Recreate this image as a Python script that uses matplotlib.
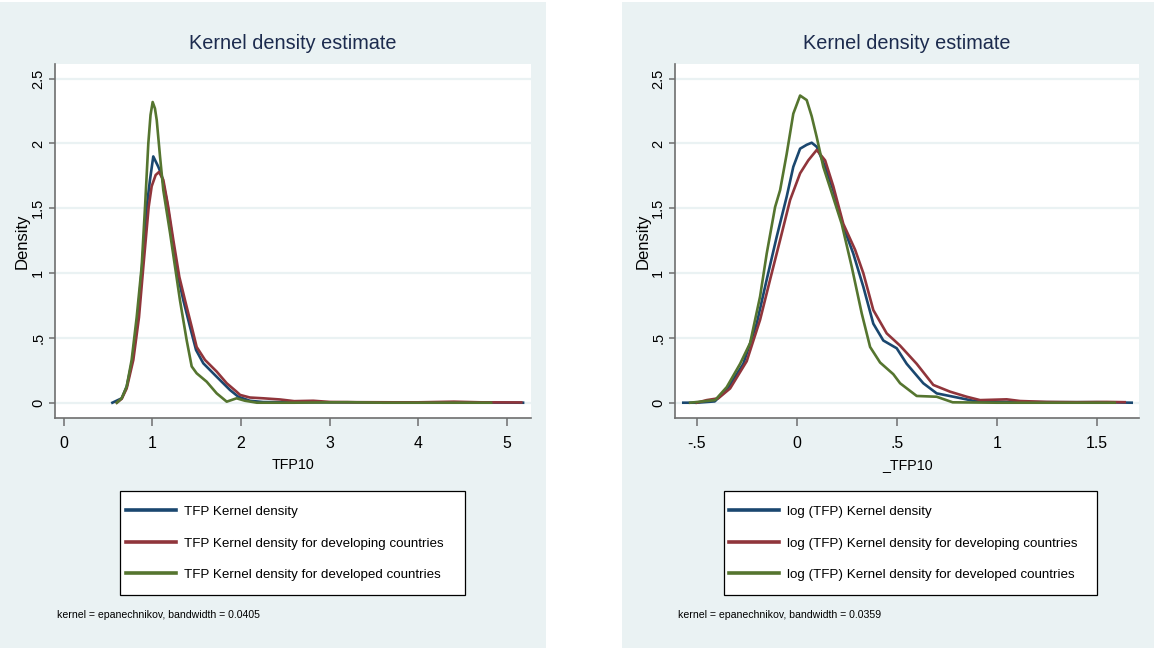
import matplotlib
matplotlib.use("Agg")
import matplotlib.pyplot as plt
import matplotlib.font_manager as fm
from matplotlib.patches import Rectangle

# ---------------- data ----------------
# Left panel: TFP10
tfp_all_x = [0.55, 0.655, 0.711, 0.775, 0.835, 0.884, 0.937, 0.974, 1.011, 1.068, 1.105, 1.162,
             1.218, 1.282, 1.35, 1.425, 1.493, 1.575, 1.726, 1.876, 1.97, 2.1, 2.25, 2.5,
             3.0, 3.5, 4.0, 4.5, 5.18]
tfp_all_y = [0.0, 0.034, 0.124, 0.33, 0.66, 1.05, 1.51, 1.72, 1.90, 1.82, 1.757, 1.564,
             1.307, 1.0, 0.79, 0.586, 0.407, 0.304, 0.2, 0.098, 0.046, 0.015, 0.005, 0.004,
             0.003, 0.002, 0.002, 0.002, 0.0]

tfp_dev_x = [0.60, 0.655, 0.711, 0.786, 0.85, 0.899, 0.959, 0.993, 1.038, 1.075, 1.124, 1.18,
             1.237, 1.305, 1.369, 1.444, 1.5, 1.594, 1.726, 1.839, 1.95, 1.99, 2.1, 2.25,
             2.44, 2.6, 2.815, 3.0, 3.3, 3.7, 4.0, 4.4, 4.7, 5.16]
tfp_dev_y = [0.0, 0.03, 0.11, 0.33, 0.66, 1.05, 1.51, 1.67, 1.757, 1.78, 1.72, 1.51,
             1.255, 0.97, 0.79, 0.586, 0.43, 0.33, 0.24, 0.15, 0.085, 0.06, 0.04, 0.034,
             0.025, 0.012, 0.015, 0.006, 0.004, 0.003, 0.003, 0.008, 0.003, 0.002]

tfp_ded_x = [0.60, 0.655, 0.711, 0.767, 0.824, 0.88, 0.918, 0.955, 0.98, 1.004, 1.03, 1.05,
             1.087, 1.124, 1.2, 1.256, 1.312, 1.388, 1.444, 1.5, 1.613, 1.726, 1.839, 1.95,
             2.045, 2.18, 2.6, 3.2, 3.6, 4.2, 4.82]
tfp_ded_y = [0.0, 0.034, 0.124, 0.33, 0.66, 1.05, 1.51, 2.0, 2.22, 2.32, 2.27, 2.18,
             1.90, 1.64, 1.31, 1.05, 0.79, 0.48, 0.28, 0.227, 0.162, 0.072, 0.008, 0.034,
             0.015, 0.0, 0.0, 0.004, 0.0, 0.0, 0.0]

# Right panel: log TFP (_TFP10)
ltfp_all_x = [-0.567, -0.5, -0.41, -0.35, -0.267, -0.2, -0.15, -0.1, -0.05, -0.017, 0.017,
              0.05, 0.075, 0.1, 0.142, 0.183, 0.233, 0.283, 0.333, 0.383, 0.433, 0.5,
              0.55, 0.633, 0.7, 0.8, 0.883, 0.967, 1.1, 1.3, 1.5, 1.675]
ltfp_all_y = [0.0, 0.0, 0.01, 0.098, 0.30, 0.61, 0.95, 1.28, 1.59, 1.82, 1.96,
              1.99, 2.006, 1.975, 1.82, 1.64, 1.36, 1.15, 0.895, 0.61, 0.48, 0.42,
              0.30, 0.15, 0.072, 0.041, 0.015, 0.008, 0.005, 0.004, 0.004, 0.0]

ltfp_dev_x = [-0.5, -0.45, -0.392, -0.333, -0.25, -0.183, -0.133, -0.083, -0.033, 0.017,
              0.058, 0.1, 0.142, 0.183, 0.233, 0.292, 0.333, 0.383, 0.45, 0.517, 0.6,
              0.683, 0.767, 0.85, 0.917, 1.05, 1.117, 1.25, 1.4, 1.55, 1.64]
ltfp_dev_y = [0.0, 0.02, 0.034, 0.11, 0.32, 0.64, 0.95, 1.255, 1.564, 1.77,
              1.87, 1.95, 1.87, 1.67, 1.38, 1.18, 1.0, 0.715, 0.535, 0.44, 0.30,
              0.137, 0.085, 0.046, 0.02, 0.026, 0.013, 0.006, 0.004, 0.006, 0.004]

ltfp_ded_x = [-0.533, -0.408, -0.35, -0.283, -0.233, -0.183, -0.15, -0.108, -0.083, -0.05,
              -0.017, 0.017, 0.05, 0.075, 0.1, 0.133, 0.175, 0.225, 0.275, 0.325, 0.367,
              0.417, 0.483, 0.517, 0.6, 0.7, 0.78, 1.0, 1.3, 1.59]
ltfp_ded_y = [0.0, 0.02, 0.12, 0.30, 0.46, 0.82, 1.15, 1.51, 1.64, 1.92,
              2.23, 2.37, 2.335, 2.21, 2.05, 1.82, 1.62, 1.38, 1.05, 0.69, 0.43,
              0.31, 0.22, 0.15, 0.052, 0.046, 0.003, 0.0, 0.0, 0.0]

left_labels = ["TFP Kernel density",
               "TFP Kernel density for developing countries",
               "TFP Kernel density for developed countries"]
right_labels = ["log (TFP) Kernel density",
                "log (TFP) Kernel density for developing countries",
                "log (TFP) Kernel density for developed countries"]

left_xticks = [0, 1, 2, 3, 4, 5]
left_xticklabels = ["0", "1", "2", "3", "4", "5"]
right_xticks = [-0.5, 0, 0.5, 1, 1.5]
right_xticklabels = ["-.5", "0", ".5", "1", "1.5"]
yticks = [0, 0.5, 1, 1.5, 2, 2.5]
yticklabels = ["0", ".5", "1", "1.5", "2", "2.5"]

title_text = "Kernel density estimate"
left_note = "kernel = epanechnikov, bandwidth = 0.0405"
right_note = "kernel = epanechnikov, bandwidth = 0.0359"

# ---------------- style ----------------
W, H = 1154, 651
BG = "#EAF2F3"
NAVY = "#1A476F"
MAROON = "#90353B"
GREEN = "#55752F"
TITLE_C = "#1C2B4E"
AXIS_C = "#6E6E6E"

avail = {f.name for f in fm.fontManager.ttflist}
if "Liberation Sans Narrow" in avail:
    NARROW, k = "Liberation Sans Narrow", 1.0
else:
    NARROW, k = "Liberation Sans", 0.82
REG = "Liberation Sans"

fig = plt.figure(figsize=(W / 100, H / 100), dpi=100)
fig.patch.set_facecolor("white")

def fx(px):
    return px / W

def fy(py):
    return 1 - py / H

# panel backgrounds (behind everything)
fig.patches.append(Rectangle((0, fy(648)), fx(545.7), (648 - 2) / H,
                             transform=fig.transFigure, fc=BG, ec="none", zorder=-10))
fig.patches.append(Rectangle((fx(622), fy(648)), fx(W - 622), (648 - 2) / H,
                             transform=fig.transFigure, fc=BG, ec="none", zorder=-10))


def setup(ax, xlim, xticks, xticklabels, xlabel):
    ax.set_facecolor("white")
    ax.set_xlim(*xlim)
    ax.set_ylim(-0.1157, 2.6134)
    for s in ["top", "right"]:
        ax.spines[s].set_visible(False)
    for s in ["left", "bottom"]:
        ax.spines[s].set_color(AXIS_C)
        ax.spines[s].set_linewidth(1.2)
    ax.set_yticks(yticks)
    ax.set_yticklabels(yticklabels, rotation=90, va="center", family=REG, fontsize=10.5)
    ax.set_xticks(xticks)
    ax.set_xticklabels(xticklabels, family=NARROW, fontsize=14 * k)
    ax.tick_params(axis="y", length=4, width=1.1, color=AXIS_C, pad=3)
    ax.tick_params(axis="x", length=6, width=1.1, color=AXIS_C, pad=7.5)
    ax.grid(axis="y", color=BG, linewidth=1.6)
    ax.set_axisbelow(True)
    ax.set_ylabel("Density", family=REG, fontsize=12, va="center")
    ax.yaxis.set_label_coords(-0.069, 0.5)
    ax.set_xlabel(xlabel, family=NARROW, fontsize=12.5 * k, va="center")
    ax.xaxis.set_label_coords(0.5, -0.134)
    ax.set_title(title_text, y=1.058, pad=0, va="center", family=NARROW,
                 fontsize=17.5 * k, color=TITLE_C)


ax1 = fig.add_axes([fx(55), fy(417.7), 476 / W, 353.7 / H])
ax2 = fig.add_axes([fx(675), fy(417.7), 464.3 / W, 353.7 / H])
setup(ax1, (-0.097, 5.2695), left_xticks, left_xticklabels, "TFP10")
setup(ax2, (-0.6085, 1.713), right_xticks, right_xticklabels, "_TFP10")

lw = 1.9
h1 = ax1.plot(tfp_all_x, tfp_all_y, color=NAVY, lw=lw, label=left_labels[0], solid_joinstyle="round")[0]
h2 = ax1.plot(tfp_dev_x, tfp_dev_y, color=MAROON, lw=lw, label=left_labels[1], solid_joinstyle="round")[0]
h3 = ax1.plot(tfp_ded_x, tfp_ded_y, color=GREEN, lw=lw, label=left_labels[2], solid_joinstyle="round")[0]
g1 = ax2.plot(ltfp_all_x, ltfp_all_y, color=NAVY, lw=lw, label=right_labels[0], solid_joinstyle="round")[0]
g2 = ax2.plot(ltfp_dev_x, ltfp_dev_y, color=MAROON, lw=lw, label=right_labels[1], solid_joinstyle="round")[0]
g3 = ax2.plot(ltfp_ded_x, ltfp_ded_y, color=GREEN, lw=lw, label=right_labels[2], solid_joinstyle="round")[0]

# legend boxes
fig.patches.append(Rectangle((fx(119.6), fy(595)), (465 - 119.6) / W, (595 - 490.7) / H,
                             transform=fig.transFigure, fc="white", ec="black", lw=0.9, zorder=1))
fig.patches.append(Rectangle((fx(724), fy(595)), (1097 - 724) / W, (595 - 490.7) / H,
                             transform=fig.transFigure, fc="white", ec="black", lw=0.9, zorder=1))

leg_fs = 11.8 * k
fs_px = leg_fs * 100 / 72
for handles, x0 in [((h1, h2, h3), 125.7), ((g1, g2, g3), 729)]:
    lg = fig.legend(handles, [h.get_label() for h in handles], loc="center left",
                    bbox_to_anchor=(fx(x0), fy(543.3)), frameon=False, borderpad=0,
                    borderaxespad=0, handlelength=50 / fs_px, handletextpad=8 / fs_px,
                    labelspacing=1.41, prop={"family": NARROW, "size": leg_fs})
    lg.set_zorder(5)
    for ln in lg.get_lines():
        ln.set_linewidth(2.6)

fig.text(fx(57), fy(615), left_note, family=NARROW, fontsize=9.2 * k, va="center", ha="left")
fig.text(fx(678), fy(615), right_note, family=NARROW, fontsize=9.2 * k, va="center", ha="left")

fig.savefig("out.png", dpi=100, facecolor=fig.get_facecolor())
